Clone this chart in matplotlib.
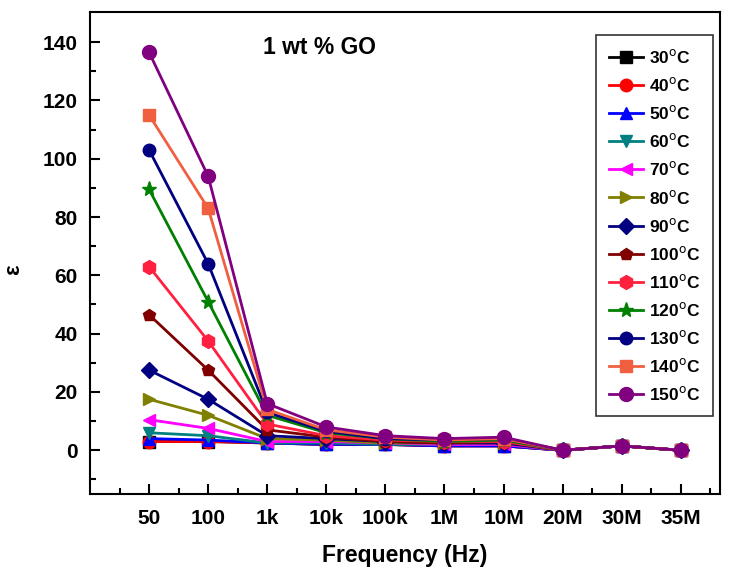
import matplotlib
matplotlib.use("Agg")
import matplotlib.pyplot as plt
import numpy as np

plt.rcParams['font.family'] = ['Liberation Sans', 'DejaVu Sans']

freq_labels = ["50", "100", "1k", "10k", "100k", "1M", "10M", "20M", "30M", "35M"]
temps = ["30", "40", "50", "60", "70", "80", "90", "100", "110", "120", "130", "140", "150"]

eps = {
    "30":  [3.0, 3.0, 2.5, 2.0, 2.0, 1.5, 1.5, 0.0, 1.5, 0.0],
    "40":  [3.0, 3.0, 2.5, 2.0, 2.0, 1.5, 1.5, 0.0, 1.5, 0.0],
    "50":  [4.0, 3.5, 2.5, 2.0, 2.0, 1.5, 1.5, 0.0, 1.5, 0.0],
    "60":  [6.0, 5.0, 2.5, 2.5, 2.0, 2.0, 2.0, 0.0, 1.5, 0.0],
    "70":  [10.5, 7.5, 3.0, 3.0, 2.5, 2.0, 2.0, 0.0, 1.5, 0.0],
    "80":  [17.5, 12.0, 4.0, 3.5, 2.5, 2.5, 2.5, 0.0, 1.5, 0.0],
    "90":  [27.5, 17.5, 5.0, 4.0, 3.0, 2.5, 2.5, 0.0, 1.5, 0.0],
    "100": [46.5, 27.5, 7.0, 4.5, 3.0, 2.5, 3.0, 0.0, 1.5, 0.0],
    "110": [63.0, 37.5, 9.0, 5.0, 3.5, 3.0, 3.0, 0.0, 1.5, 0.0],
    "120": [89.5, 51.0, 12.0, 6.0, 4.0, 3.0, 3.5, 0.0, 1.5, 0.0],
    "130": [103.0, 64.0, 13.0, 6.5, 4.0, 3.5, 4.0, 0.0, 1.5, 0.0],
    "140": [115.0, 83.0, 14.0, 7.0, 4.5, 3.5, 4.0, 0.0, 1.5, 0.0],
    "150": [136.5, 94.0, 16.0, 8.0, 5.0, 4.0, 4.5, 0.0, 1.5, 0.0],
}

colors = ["#000000", "#ff0000", "#0000ff", "#008080", "#ff00ff", "#808000", "#000080",
          "#800000", "#ff2040", "#008000", "#000080", "#f06040", "#800080"]
markers = ["s", "o", "^", "v", "<", ">", "D", "p", "h", "*", "o", "s", "o"]
msizes = [8, 9, 9, 9, 9, 9, 8, 9, 10, 11, 9, 8, 10]

fig = plt.figure(figsize=(7.34, 5.69), dpi=100)
ax = fig.add_axes([0.1226, 0.1318, 0.858, 0.847])

x = np.arange(1, len(freq_labels) + 1)
for t, c, m, s in zip(temps, colors, markers, msizes):
    ax.plot(x, eps[t], color=c, marker=m, markersize=s, linewidth=2,
            label=f"{t}$^{{\\mathrm{{o}}}}$C")

ax.set_xlim(0, 10.66)
ax.set_ylim(-15, 150.3)
ax.set_xticks(x)
ax.set_xticklabels(freq_labels)
ax.set_xticks(np.arange(0.5, 10.6, 1.0), minor=True)
ax.set_yticks(np.arange(0, 141, 20))
ax.set_yticks(np.arange(-10, 150, 20), minor=True)

ax.tick_params(axis='both', which='major', direction='in', length=7, width=1.5,
               labelsize=15)
ax.tick_params(axis='x', which='major', pad=11)
ax.tick_params(axis='y', which='major', pad=9)
ax.tick_params(axis='both', which='minor', direction='in', length=4, width=1.5)
for lab in ax.get_xticklabels() + ax.get_yticklabels():
    lab.set_fontweight('bold')
for sp in ax.spines.values():
    sp.set_linewidth(1.5)

ax.set_xlabel("Frequency (Hz)", fontsize=16.5, fontweight='bold', labelpad=11)
ax.set_ylabel("ε", fontsize=16, fontweight='bold')
ax.yaxis.set_label_coords(-0.105, 0.465)

ax.text(3.88, 138, "1 wt % GO", fontsize=16.5, fontweight='bold', ha='center', va='center')

leg = ax.legend(loc='upper right', bbox_to_anchor=(0.989, 0.952), borderaxespad=0,
                frameon=True, fancybox=False, edgecolor='black',
                prop={'weight': 'bold', 'size': 12.5},
                handlelength=2.0, labelspacing=0.58, borderpad=0.75, handletextpad=0.3)
leg.get_frame().set_linewidth(1.2)

fig.savefig("out.png", dpi=100)
